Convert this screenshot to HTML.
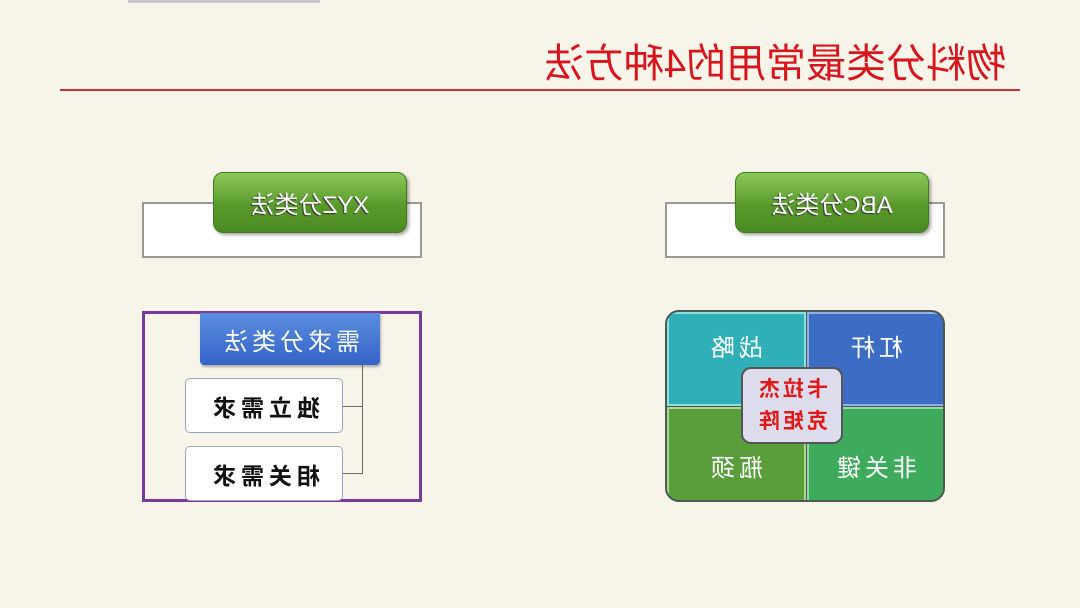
<!DOCTYPE html>
<html><head><meta charset="utf-8"><style>
body{margin:0;width:1080px;height:608px;background:#f7f4ea;position:relative;overflow:hidden;font-family:"Liberation Sans","Noto Sans CJK SC",sans-serif}
.a{position:absolute;box-sizing:border-box}
.m{position:absolute;display:flex;align-items:center;justify-content:center;transform:scaleX(-1);white-space:nowrap}
.g{background:linear-gradient(#8cc85a,#5a9a2c 55%,#4a8a22);border:1px solid #3f7a1e;border-radius:10px;box-shadow:2px 2px 3px rgba(0,0,0,.35)}
</style></head><body>
<div class="a" style="left:128px;top:0;width:192px;height:3px;background:#c8c8c8"></div>
<div class="m" style="left:530px;top:36px;width:490px;height:48px;font-size:40px;color:#d8141c">物料分类最常用的4种方法</div>
<div class="a" style="left:60px;top:89px;width:960px;height:2px;background:#d23030"></div>

<div class="a" style="left:142px;top:202px;width:280px;height:56px;background:#fff;border:2px solid #9a9a90"></div>
<div class="a g" style="left:213px;top:172px;width:194px;height:61px"></div>
<div class="m" style="left:213px;top:172px;width:194px;height:61px;font-size:24px;color:#fff;text-shadow:1px 1px 1px #333">XYZ分类法</div>

<div class="a" style="left:665px;top:202px;width:280px;height:56px;background:#fff;border:2px solid #9a9a90"></div>
<div class="a g" style="left:735px;top:172px;width:194px;height:61px"></div>
<div class="m" style="left:735px;top:172px;width:194px;height:61px;font-size:24px;color:#fff;text-shadow:1px 1px 1px #333">ABC分类法</div>

<div class="a" style="left:142px;top:311px;width:280px;height:191px;border:3px solid #7a3a9a"></div>
<div class="a" style="left:200px;top:313px;width:180px;height:52px;background:linear-gradient(#5b8ee0,#3563c8);border-radius:0 0 4px 4px;box-shadow:1px 2px 2px rgba(0,0,0,.3)"></div>
<div class="m" style="left:200px;top:313px;width:180px;height:52px;font-size:24px;color:#fff;letter-spacing:4px">需求分类法</div>
<div class="a" style="left:362px;top:365px;width:1px;height:109px;background:#666"></div>
<div class="a" style="left:343px;top:406px;width:20px;height:1px;background:#666"></div>
<div class="a" style="left:343px;top:473px;width:20px;height:1px;background:#666"></div>
<div class="a" style="left:185px;top:378px;width:158px;height:55px;background:#fff;border:1px solid #9aa6b8;border-radius:5px"></div>
<div class="m" style="left:185px;top:378px;width:158px;height:55px;font-size:23px;color:#111;font-weight:bold;letter-spacing:5px">独立需求</div>
<div class="a" style="left:185px;top:446px;width:158px;height:55px;background:#fff;border:1px solid #9aa6b8;border-radius:5px"></div>
<div class="m" style="left:185px;top:446px;width:158px;height:55px;font-size:23px;color:#111;font-weight:bold;letter-spacing:5px">相关需求</div>

<div class="a" style="left:665px;top:310px;width:280px;height:192px;border-radius:14px;overflow:hidden;border:2px solid #4a5a50;background:#555">
 <div class="a" style="left:0;top:0;width:139px;height:94px;background:#2fb0b8;border:2px solid #8fe0e0"></div>
 <div class="a" style="left:140px;top:0;width:140px;height:94px;background:#3c6cc4;border:2px solid #8fb0e8"></div>
 <div class="a" style="left:0;top:95px;width:139px;height:95px;background:#5a9e3c;border:2px solid #a8d890"></div>
 <div class="a" style="left:140px;top:95px;width:140px;height:95px;background:#3eaa5c;border:2px solid #90dca8"></div>
</div>
<div class="m" style="left:670px;top:320px;width:130px;height:50px;font-size:24px;color:#fff;letter-spacing:4px">战略</div>
<div class="m" style="left:810px;top:320px;width:130px;height:50px;font-size:24px;color:#fff;letter-spacing:4px">杠杆</div>
<div class="m" style="left:670px;top:440px;width:130px;height:50px;font-size:24px;color:#fff;letter-spacing:4px">瓶颈</div>
<div class="m" style="left:810px;top:440px;width:130px;height:50px;font-size:24px;color:#fff;letter-spacing:4px">非关键</div>
<div class="a" style="left:741px;top:367px;width:102px;height:77px;background:#dcdcec;border:2px solid #555;border-radius:10px"></div>
<div class="m" style="left:741px;top:367px;width:102px;height:77px;font-size:21px;color:#e01818;font-weight:bold;line-height:32px;text-align:center;letter-spacing:3px;white-space:normal">卡拉杰<br>克矩阵</div>
</body></html>
